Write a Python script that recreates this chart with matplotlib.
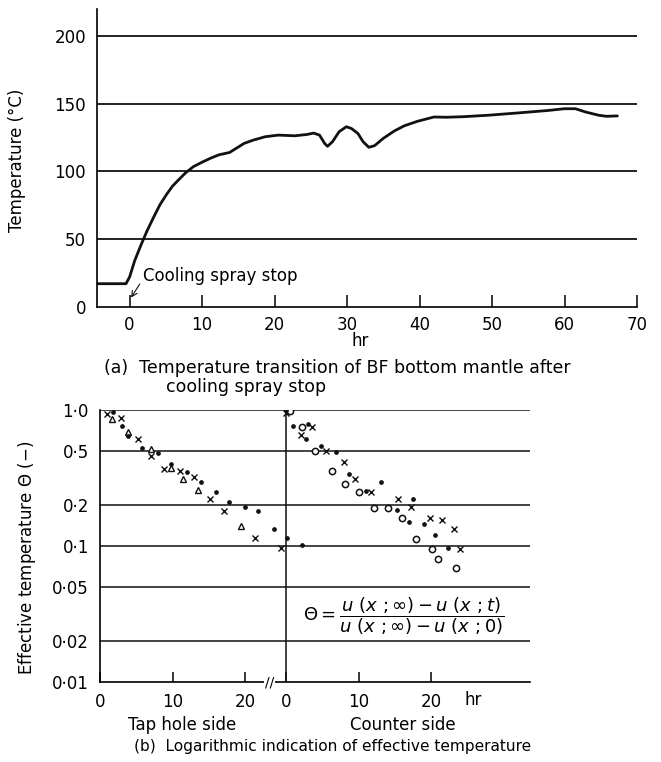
import numpy as np
import matplotlib.pyplot as plt

plt.rcParams['font.family'] = ['DejaVu Sans']
plt.rcParams['mathtext.fontset'] = 'dejavusans'

W, H = 661, 762

# ---- (a) temperature transition ----
hours = [-4.4, -0.5, 0.0, 0.7, 1.6, 2.4, 3.3, 4.2, 5.1, 5.9, 6.8, 7.7, 8.8, 10.0,
         11.2, 12.3, 13.8, 14.7, 15.8, 17.0, 18.7, 20.5, 22.8, 24.5, 25.4, 26.2,
         26.9, 27.3, 28.0, 28.9, 29.9, 30.6, 31.5, 32.2, 33.0, 33.8, 35.0, 36.5,
         37.9, 39.7, 42.0, 43.7, 46.0, 49.5, 53.6, 57.7, 60.0, 61.5, 62.9, 64.7,
         65.8, 67.3]
temp = [17, 17, 22, 34, 46, 56, 66, 75.5, 83, 89, 94, 98.8, 103.5, 106.8,
        109.8, 112.2, 114, 117, 120.7, 123, 125.6, 126.8, 126.3, 127.3, 128.3, 126.8,
        120.7, 118.5, 122, 129.3, 133, 131.7, 128, 122, 117.8, 119, 124.4, 129.8,
        133.7, 137, 140.2, 140, 140.4, 141.5, 143.2, 145, 146.3, 146.3, 143.9, 141.5,
        140.7, 141]
temp_grid = [50, 100, 150, 200]
hour_ticks = [0, 10, 20, 30, 40, 50, 60, 70]

# ---- (b) effective temperature, log scale ----
tap_cross_t = [0.9, 2.9, 5.3, 7.1, 8.8, 11.0, 13.0, 15.2, 17.1, 21.4, 25.0]
tap_cross_v = [0.935, 0.878, 0.61, 0.459, 0.368, 0.358, 0.323, 0.222, 0.182, 0.115, 0.097]
tap_tri_t = [1.7, 3.9, 7.1, 9.8, 11.4, 13.5, 19.4]
tap_tri_v = [0.86, 0.692, 0.517, 0.373, 0.313, 0.257, 0.141]
tap_dot_t = [1.75, 3.1, 3.9, 5.75, 7.96, 9.8, 12.0, 13.9, 16.0, 17.8, 20.0, 21.8, 24.0]
tap_dot_v = [0.97, 0.767, 0.647, 0.523, 0.485, 0.403, 0.35, 0.297, 0.248, 0.212, 0.195, 0.182, 0.134]

cnt_cross_t = [0.0, 2.0, 3.6, 5.5, 8.0, 9.5, 11.7, 15.4, 17.3, 19.9, 21.5, 23.2, 24.0]
cnt_cross_v = [0.945, 0.655, 0.754, 0.50, 0.412, 0.309, 0.249, 0.223, 0.194, 0.161, 0.155, 0.133, 0.0946]
cnt_circ_t = [0.55, 2.25, 4.0, 6.3, 8.1, 10.0, 12.2, 14.1, 16.0, 17.9, 20.2, 21.0, 23.5]
cnt_circ_v = [0.98, 0.746, 0.502, 0.358, 0.286, 0.248, 0.19, 0.19, 0.161, 0.113, 0.0955, 0.0807, 0.0692]
cnt_dot_t = [0.0, 0.2, 0.9, 2.25, 2.7, 3.0, 4.8, 6.9, 8.7, 11.0, 13.1, 15.3, 16.9, 17.5,
             19.0, 20.5, 22.4]
cnt_dot_v = [1.0, 0.115, 0.762, 0.1016, 0.609, 0.785, 0.547, 0.489, 0.338, 0.252, 0.294,
             0.185, 0.150, 0.223, 0.144, 0.12, 0.096]

theta_grid = [0.02, 0.05, 0.1, 0.2, 0.5, 1.0]
theta_ticks = [0.01, 0.02, 0.05, 0.1, 0.2, 0.5, 1.0]
theta_labels = ['0·01', '0·02', '0·05', '0·1', '0·2', '0·5', '1·0']
side_ticks = [0, 10, 20]

px = 7.25            # pixels per hour in panel (b)
offset = 186 / px    # counter side starts here


def fx(x):
    return x / W


def fy(y):
    return 1 - y / H


fig = plt.figure(figsize=(W / 100, H / 100), dpi=100)

# ---------------- panel (a) ----------------
ax1 = fig.add_axes([fx(97), fy(306.7), 540 / W, (306.7 - 9) / H])
ax1.set_xlim(-4.5, 70)
ax1.set_ylim(0, 220)
for g in temp_grid:
    ax1.plot([-4.5, 70], [g, g], color='#111', lw=1.3)
ax1.plot(hours, temp, color='#111', lw=2.0, solid_capstyle='round')
ax1.set_xticks(hour_ticks)
ax1.set_yticks([0] + temp_grid)
ax1.tick_params(axis='x', direction='in', length=9, width=1.1, pad=7, labelsize=12)
ax1.tick_params(axis='y', length=0, pad=8, labelsize=12)
for s in ['top', 'right']:
    ax1.spines[s].set_visible(False)
ax1.spines['left'].set_linewidth(1.2)
ax1.spines['bottom'].set_linewidth(1.2)
ax1.annotate('', xy=(0, 5), xytext=(1.6, 18.5),
             arrowprops=dict(arrowstyle='->', lw=0.8, color='#111'))
ax1.text(1.9, 23, 'Cooling spray stop', fontsize=12, ha='left', va='center')

fig.text(fx(17), fy(160), 'Temperature (°C)', rotation=90, ha='center', va='center',
         fontsize=12)
fig.text(fx(360), fy(341), 'hr', ha='center', va='center', fontsize=12)
fig.text(fx(104), fy(368), '(a)  Temperature transition of BF bottom mantle after',
         ha='left', va='center', fontsize=12.5)
fig.text(fx(166), fy(387), 'cooling spray stop', ha='left', va='center', fontsize=12.5)

# ---------------- panel (b) ----------------
ax2 = fig.add_axes([fx(100), fy(682), 430 / W, 272 / H])
xmax = 430 / px
ax2.set_yscale('log')
ax2.set_xlim(0, xmax)
ax2.set_ylim(0.01, 1.0)
for g in theta_grid:
    ax2.plot([0, xmax], [g, g], color='#111', lw=1.1)
ax2.plot([offset, offset], [0.01, 1.0], color='#111', lw=1.1)

mk = dict(ls='none', color='#111')
ax2.plot(tap_cross_t, tap_cross_v, marker='x', ms=5, mew=1.0, **mk)
ax2.plot(tap_tri_t, tap_tri_v, marker='^', ms=5, mew=1.0, mfc='white', **mk)
ax2.plot(tap_dot_t, tap_dot_v, marker='o', ms=2.4, **mk)
ax2.plot(np.array(cnt_cross_t) + offset, cnt_cross_v, marker='x', ms=5, mew=1.0, **mk)
ax2.plot(np.array(cnt_circ_t) + offset, cnt_circ_v, marker='o', ms=4.5, mew=1.1,
         mfc='white', **mk)
ax2.plot(np.array(cnt_dot_t) + offset, cnt_dot_v, marker='o', ms=2.4, **mk)

ax2.set_yticks(theta_ticks)
ax2.set_yticklabels(theta_labels)
ax2.yaxis.set_minor_locator(plt.NullLocator())
xt = side_ticks + [t + offset for t in side_ticks]
ax2.set_xticks(xt)
ax2.set_xticklabels([str(t) for t in side_ticks] * 2)
ax2.tick_params(axis='x', direction='in', length=7, width=1.1, pad=8, labelsize=12)
ax2.tick_params(axis='y', length=0, pad=8, labelsize=12)
for s in ['top', 'right']:
    ax2.spines[s].set_visible(False)
ax2.spines['left'].set_linewidth(1.2)
ax2.spines['bottom'].set_linewidth(1.2)
ax2.text(23.4, 0.01, '//', fontsize=10, ha='center', va='center',
         bbox=dict(fc='white', ec='none', pad=0.5))

ax2.text((303 - 100) / px, 10 ** (-(616 - 410) / 136.0),
         r'$\Theta = \dfrac{u\ (x\ ;\infty) - u\ (x\ ;t)}{u\ (x\ ;\infty) - u\ (x\ ;0)}$',
         fontsize=13, ha='left', va='center')

fig.text(fx(27), fy(558), 'Effective temperature $\\Theta$ (−)', rotation=90,
         ha='center', va='center', fontsize=12)
fig.text(fx(473), fy(700), 'hr', ha='center', va='center', fontsize=12)
fig.text(fx(182), fy(725), 'Tap hole side', ha='center', va='center', fontsize=12)
fig.text(fx(403), fy(725), 'Counter side', ha='center', va='center', fontsize=12)
fig.text(fx(134), fy(746), '(b)  Logarithmic indication of effective temperature',
         ha='left', va='center', fontsize=11.1)

fig.savefig('out.png', dpi=100)
